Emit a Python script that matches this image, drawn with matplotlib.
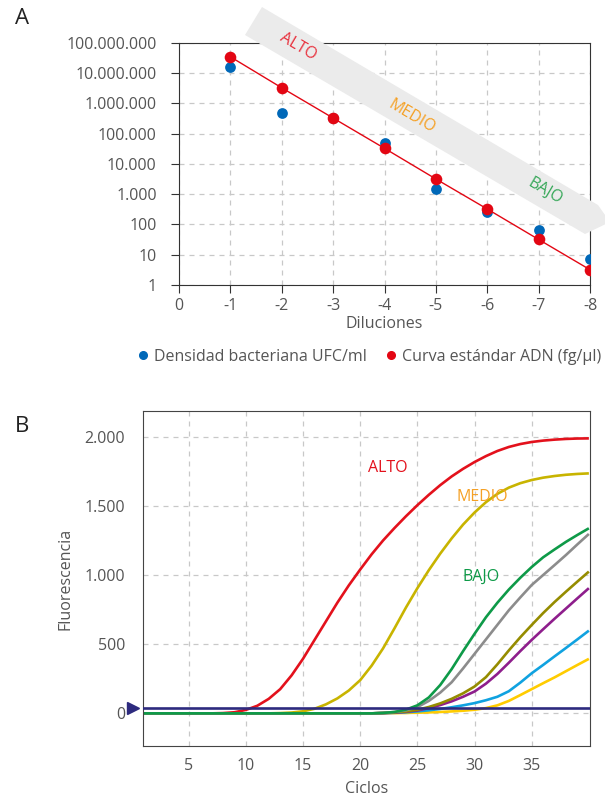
import matplotlib
matplotlib.use("Agg")
import matplotlib.pyplot as plt
from matplotlib.patches import Polygon
from matplotlib.lines import Line2D

plt.rcParams['font.family'] = ['Open Sans', 'DejaVu Sans']
plt.rcParams['axes.unicode_minus'] = False

# ---- Panel A data ----
diluciones = [-1, -2, -3, -4, -5, -6, -7, -8]
ufc_ml = [1.65e7, 5.0e5, 3.2e5, 4.8e4, 1.5e3, 260, 67, 7.2]
adn_fg = [3.5e7, 3.3e6, 3.3e5, 3.3e4, 3.2e3, 325, 32, 3.2]
xticks_a = [0, -1, -2, -3, -4, -5, -6, -7, -8]
xlabels_a = ["0", "-1", "-2", "-3", "-4", "-5", "-6", "-7", "-8"]
yticks_a = [1, 10, 100, 1e3, 1e4, 1e5, 1e6, 1e7, 1e8]
ylabels_a = ["1", "10", "100", "1.000", "10.000", "100.000",
             "1.000.000", "10.000.000", "100.000.000"]

# ---- Panel B data ----
ciclos = list(range(1, 41))
z = [0] * 21
rojo = [0, 0, 0, 0, 0, 0, 0, 2, 8, 25, 55, 105, 175, 275, 395, 530, 665, 800,
        925, 1040, 1150, 1250, 1340, 1425, 1505, 1580, 1650, 1713, 1768, 1817,
        1860, 1897, 1926, 1947, 1962, 1972, 1979, 1984, 1987, 1988]
amarillo = [0] * 12 + [2, 6, 15, 33, 65, 108, 165, 240, 345, 470, 615, 765,
                       905, 1035, 1155, 1265, 1365, 1452, 1527, 1587, 1632,
                       1664, 1687, 1704, 1716, 1725, 1731, 1735]
verde = z + [3, 10, 27, 58, 115, 205, 320, 450, 575, 695, 800, 895, 980, 1058,
             1128, 1185, 1240, 1290, 1338]
gris = z + [3, 10, 22, 45, 90, 150, 225, 325, 430, 535, 640, 745, 838, 928,
            1000, 1072, 1145, 1222, 1297]
oliva = z + [3, 7, 14, 26, 46, 72, 105, 145, 194, 262, 355, 455, 550, 639,
             725, 805, 880, 953, 1025]
morado = z + [2, 5, 11, 21, 38, 60, 87, 120, 158, 215, 285, 366, 450, 531,
              608, 684, 758, 832, 905]
azul = z + [2, 4, 8, 14, 22, 32, 44, 58, 74, 95, 120, 160, 222, 290, 350,
            412, 473, 535, 598]
dorado = z + [1, 2, 3, 5, 7, 10, 14, 19, 26, 38, 58, 90, 132, 175, 218, 260,
              305, 350, 394]
umbral = 42
curvas = [(rojo, "#e3111c"), (amarillo, "#c8b400"), (dorado, "#ffcc00"),
          (azul, "#10a2e0"), (morado, "#8e1e8c"), (oliva, "#958c00"),
          (gris, "#8c8c8c"), (verde, "#0e9a48")]

gray_txt = "#555555"
fs = 11.5
grid_kw = dict(color="#c8c8c8", linestyle=(0, (4, 4)), linewidth=0.9)

W, H = 605, 801
fig = plt.figure(figsize=(6.05, 8.01), dpi=100)

# ================= Panel A =================
axA = fig.add_axes([179 / W, 1 - 285 / H, (590 - 179) / W, (285 - 43) / H])
axA.scatter(diluciones, ufc_ml, s=60, color="#0068b8", zorder=3, linewidths=0)
axA.plot(diluciones, adn_fg, color="#e30613", linewidth=1, zorder=4)
axA.scatter(diluciones, adn_fg, s=70, color="#e30613", zorder=5, linewidths=0)
axA.set_yscale("log")
axA.set_xlim(0, -8)
axA.set_ylim(1, 1e8)
axA.set_xticks(xticks_a)
axA.set_xticklabels(xlabels_a)
axA.set_yticks(yticks_a)
axA.set_yticklabels(ylabels_a)
axA.minorticks_off()
axA.grid(True, **grid_kw)
axA.set_axisbelow(True)
axA.tick_params(axis="y", length=6, pad=10, colors="#333333",
                labelcolor=gray_txt, labelsize=fs)
axA.tick_params(axis="x", length=6, pad=3, colors="#333333",
                labelcolor=gray_txt, labelsize=fs)
for s in axA.spines.values():
    s.set_color("#333333")
axA.set_xlabel("Diluciones", fontsize=fs, color=gray_txt, labelpad=2)

# gray band with labels
band = [(262, 7), (598, 205), (610, 222), (585, 234), (245, 35)]
fig.add_artist(Polygon([(x / W, 1 - y / H) for x, y in band], closed=True,
                       transform=fig.transFigure, facecolor="#ebebeb",
                       edgecolor="none", zorder=5))
for txt, (x, y), c in [("ALTO", (298, 47), "#e8333f"),
                       ("MEDIO", (412, 117), "#f5a024"),
                       ("BAJO", (545, 191), "#38a85a")]:
    fig.text(x / W, 1 - y / H, txt, color=c, fontsize=fs, rotation=-30.5,
             ha="center", va="center", zorder=6)

handles = [Line2D([], [], linestyle="none", marker="o", markersize=5.5,
                  color="#0068b8", label="Densidad bacteriana UFC/ml"),
           Line2D([], [], linestyle="none", marker="o", markersize=5.5,
                  color="#e30613", label="Curva estándar ADN (fg/µl)")]
leg = fig.legend(handles=handles, loc="center", ncol=2,
                 bbox_to_anchor=(368 / W, 1 - 357 / H), frameon=False,
                 fontsize=11.5, handletextpad=0.2, columnspacing=1.0,
                 handlelength=1.0, borderaxespad=0, borderpad=0)
for t in leg.get_texts():
    t.set_color(gray_txt)

# ================= Panel B =================
axB = fig.add_axes([143 / W, 1 - 746 / H, (590 - 143) / W, (746 - 411) / H])
for vals, col in curvas:
    axB.plot(ciclos, vals, color=col, linewidth=1.9, solid_capstyle="butt",
             solid_joinstyle="round")
axB.axhline(umbral, color="#2d2a7e", linewidth=1.9, zorder=4)
axB.plot([-0.022], [umbral], marker=">", markersize=8, color="#2d2a7e",
         transform=axB.get_yaxis_transform(), clip_on=False, zorder=6)
axB.set_xlim(1, 40.1)
axB.set_ylim(-236, 2186)
axB.set_xticks([5, 10, 15, 20, 25, 30, 35])
axB.set_yticks([0, 500, 1000, 1500, 2000])
axB.set_yticklabels(["0", "500", "1.000", "1.500", "2.000"])
axB.grid(True, **grid_kw)
axB.set_axisbelow(True)
axB.tick_params(axis="both", length=0, labelcolor=gray_txt, labelsize=fs)
axB.tick_params(axis="y", pad=13)
axB.tick_params(axis="x", pad=9)
for s in axB.spines.values():
    s.set_color("#444444")
axB.set_xlabel("Ciclos", fontsize=fs, color=gray_txt, labelpad=5)
axB.set_ylabel("Fluorescencia", fontsize=fs, color=gray_txt, labelpad=8)
axB.text(22.4, 1774, "ALTO", color="#e3111c", fontsize=fs, ha="center", va="center")
axB.text(30.7, 1564, "MEDIO", color="#f5a024", fontsize=fs, ha="center", va="center")
axB.text(30.6, 986, "BAJO", color="#0e9a48", fontsize=fs, ha="center", va="center")

fig.text(15 / W, 1 - 18 / H, "A", fontsize=16, color="#222222", va="center")
fig.text(15 / W, 1 - 426 / H, "B", fontsize=16, color="#222222", va="center")

fig.savefig("out.png", dpi=100)
